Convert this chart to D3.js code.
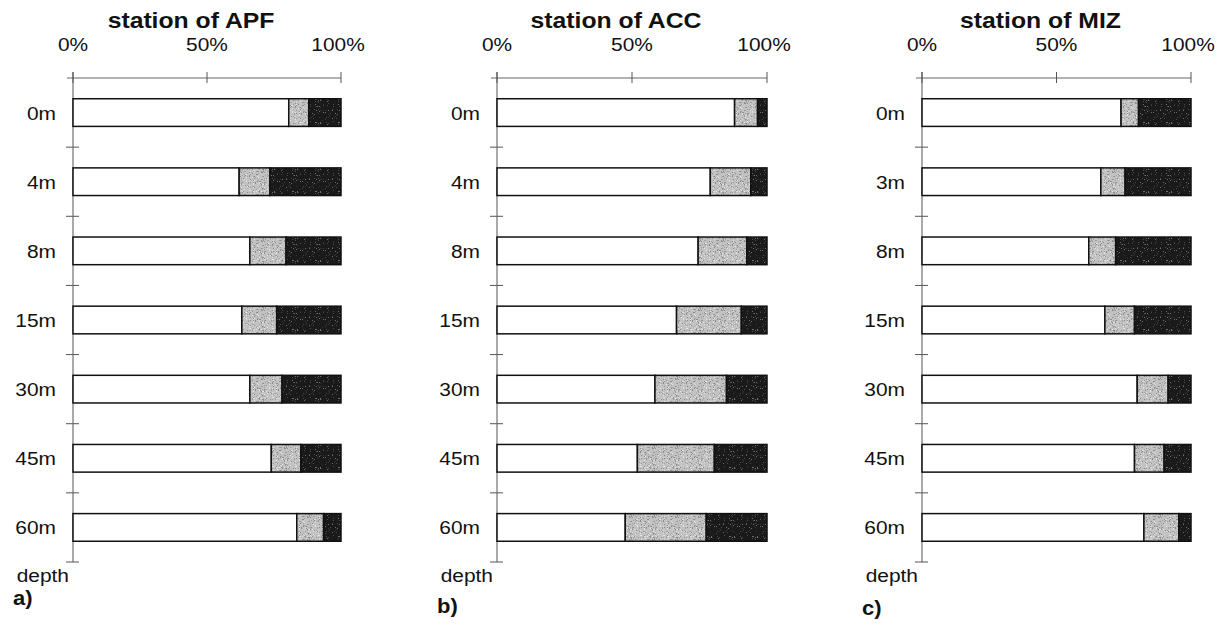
<!DOCTYPE html>
<html>
<head>
<meta charset="utf-8">
<script src="https://cdn.jsdelivr.net/npm/d3@7/dist/d3.min.js"></script>
<style>
  html, body { margin: 0; padding: 0; background: #fff; }
  svg { display: block; }
  text { font-family: "Liberation Sans", Arial, sans-serif; fill: #111; }
</style>
</head>
<body>
<svg id="chart" width="1222" height="628"></svg>
<script>
// Depth levels sampled at each station
const depthsAPF = ["0m", "4m", "8m", "15m", "30m", "45m", "60m"];
const depthsACC = ["0m", "4m", "8m", "15m", "30m", "45m", "60m"];
const depthsMIZ = ["0m", "3m", "8m", "15m", "30m", "45m", "60m"];

// Percentage share of each of the three fractions (white, grey, black)
const apfWhite = [80.5, 62, 66, 63, 66, 74, 83.5];
const apfGrey  = [7.5, 11.5, 13.5, 13, 12, 11, 10];
const apfBlack = [12, 26.5, 20.5, 24, 22, 15, 6.5];

const accWhite = [88, 79, 74.5, 66.5, 58.5, 52, 47.5];
const accGrey  = [8.5, 15, 18, 24, 26.5, 28.5, 30];
const accBlack = [3.5, 6, 7.5, 9.5, 15, 19.5, 22.5];

const mizWhite = [74, 66.5, 62, 68, 80, 79, 82.5];
const mizGrey  = [6.5, 9, 10, 11, 11.5, 11, 13];
const mizBlack = [19.5, 24.5, 28, 21, 8.5, 10, 4.5];

const percentTicks = [0, 50, 100];
const panelLetters = ["a)", "b)", "c)"];
const stationNames = ["station of APF", "station of ACC", "station of MIZ"];

const panels = [
  { name: stationNames[0], letter: panelLetters[0], depths: depthsAPF, series: [apfWhite, apfGrey, apfBlack], x0: 73,  x1: 341,  letterY: 605 },
  { name: stationNames[1], letter: panelLetters[1], depths: depthsACC, series: [accWhite, accGrey, accBlack], x0: 497, x1: 767,  letterY: 613 },
  { name: stationNames[2], letter: panelLetters[2], depths: depthsMIZ, series: [mizWhite, mizGrey, mizBlack], x0: 922, x1: 1191, letterY: 615 }
];

const fills = ["#ffffff", "url(#greyStipple)", "url(#blackStipple)"];
const wide = 1.1; // lettering is set slightly extended

const svg = d3.select("#chart");

// Stippled fills for the grey and black fractions
const defs = svg.append("defs");
function stipple(id, base, dots, count, seedStart) {
  const size = 23;
  const p = defs.append("pattern").attr("id", id)
    .attr("patternUnits", "userSpaceOnUse").attr("width", size).attr("height", size);
  p.append("rect").attr("width", size).attr("height", size).attr("fill", base);
  let s = seedStart;
  const rnd = () => { s = (s * 9301 + 49297) % 233280; return s / 233280; };
  for (let i = 0; i < count; i++) {
    p.append("rect").attr("x", Math.floor(rnd() * size)).attr("y", Math.floor(rnd() * size))
      .attr("width", 1).attr("height", 1).attr("fill", dots[i % dots.length]);
  }
}
stipple("greyStipple", "#c2c2c2", ["#8c8c8c", "#e2e2e2", "#a0a0a0"], 150, 17);
stipple("blackStipple", "#1a1a1a", ["#4a4a4a", "#6e6e6e", "#333"], 60, 91);

// Extended text helper
function label(g, x, y, str, size, anchor, bold) {
  return g.append("text")
    .attr("transform", `translate(${x},${y}) scale(${wide},1)`)
    .attr("text-anchor", anchor)
    .style("font-size", size + "px")
    .style("font-weight", bold ? "bold" : "normal")
    .text(str);
}

const yTop = 78, yBottom = 562;

panels.forEach(pn => {
  const g = svg.append("g");

  const x = d3.scaleLinear().domain([0, 100]).range([pn.x0, pn.x1]);
  const y = d3.scaleBand().domain(pn.depths).range([yTop, yBottom])
    .paddingInner(0.6).paddingOuter(0.3);
  const step = y.step();

  // Title
  label(g, (pn.x0 + pn.x1) / 2 - 16, 28, pn.name, 22.5, "middle", true);

  // Percentage labels above the top axis
  percentTicks.forEach(d => label(g, x(d) - (d === 100 ? 3 : 0), 51, d + "%", 19, "middle", false));

  // Top axis line with crossing ticks
  g.append("line")
    .attr("x1", pn.x0 - 6).attr("x2", pn.x1)
    .attr("y1", yTop).attr("y2", yTop)
    .attr("stroke", "#666").attr("stroke-width", 1);
  g.selectAll(".xt").data(percentTicks).join("line")
    .attr("x1", d => x(d)).attr("x2", d => x(d))
    .attr("y1", yTop - 6).attr("y2", yTop + 5)
    .attr("stroke", "#555").attr("stroke-width", 1);

  // Left depth axis with crossing ticks between bands
  g.append("line")
    .attr("x1", pn.x0).attr("x2", pn.x0)
    .attr("y1", yTop - 6).attr("y2", yBottom)
    .attr("stroke", "#555").attr("stroke-width", 1);
  const bounds = pn.depths.map(d => y(d) + y.bandwidth() / 2 + step / 2);
  g.selectAll(".yt").data(bounds).join("line")
    .attr("x1", pn.x0 - 7).attr("x2", pn.x0 + 6)
    .attr("y1", d => d).attr("y2", d => d)
    .attr("stroke", "#555").attr("stroke-width", 1);

  // Depth labels
  pn.depths.forEach(d => label(g, pn.x0 - 17, y(d) + y.bandwidth() / 2 + 7, d, 19, "end", false));

  // Stacked bars
  const rows = pn.depths.map((d, i) => {
    let acc = 0;
    return pn.series.map((s, k) => {
      const seg = { depth: d, k, start: acc, end: acc + s[i] };
      acc += s[i];
      return seg;
    });
  }).flat();

  g.selectAll(".seg").data(rows).join("rect")
    .attr("x", d => x(d.start))
    .attr("y", d => y(d.depth))
    .attr("width", d => x(d.end) - x(d.start))
    .attr("height", y.bandwidth())
    .attr("fill", d => fills[d.k])
    .attr("stroke", "#111").attr("stroke-width", 1.5);

  // Axis caption and panel letter
  label(g, pn.x0 - 4, 582, "depth", 19, "end", false);
  label(g, pn.x0 - 60, pn.letterY, pn.letter, 20, "start", true);
});
</script>
</body>
</html>
